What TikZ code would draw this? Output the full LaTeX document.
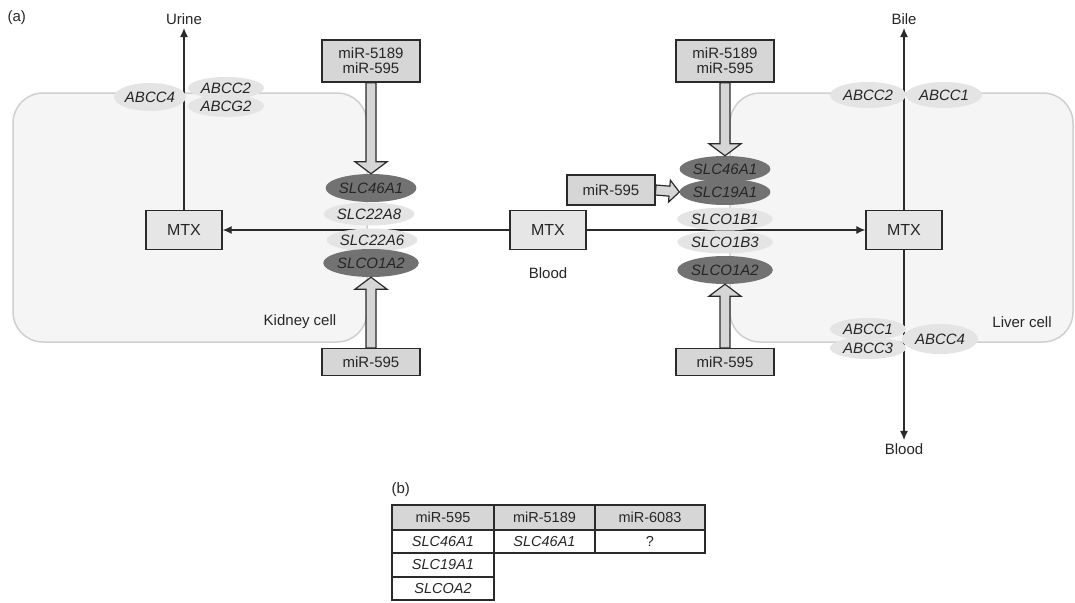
\documentclass[tikz,border=0pt]{standalone}
\usepackage{fontspec}
\setmainfont{Liberation Sans}
\usetikzlibrary{shapes.geometric,arrows.meta,calc}
\pgfdeclarelayer{bg}
\pgfdeclarelayer{lines}
\pgfsetlayers{bg,lines,main}
\definecolor{cellfill}{HTML}{F5F5F5}
\definecolor{celldraw}{HTML}{CFCFCF}
\definecolor{darkgene}{HTML}{727272}
\definecolor{lightgene}{HTML}{E4E4E4}
\definecolor{boxfill}{HTML}{D6D6D6}
\definecolor{mtxfill}{HTML}{E6E6E6}
\definecolor{edge}{HTML}{2A2A2A}
% #1 from, #2 to, #3 shaft half width, #4 head half width, #5 head length
\newcommand{\hollowarrow}[5]{%
  \fill[boxfill,draw=edge,line width=1.2pt,line join=miter]
    ($(#1)!#3!90:(#2)$) --
    ($($(#2)!#5!(#1)$)!#3!-90:(#1)$) --
    ($($(#2)!#5!(#1)$)!#4!-90:(#1)$) --
    (#2) --
    ($($(#2)!#5!(#1)$)!#4!90:(#1)$) --
    ($($(#2)!#5!(#1)$)!#3!90:(#1)$) --
    ($(#1)!#3!-90:(#2)$) -- cycle;}
\begin{document}
\begin{tikzpicture}[x=1pt,y=-1pt,
  every node/.style={font=\fontsize{15}{17}\selectfont, text=black!85},
  cell/.style={fill=cellfill,draw=celldraw,line width=1.5pt,rounded corners=30pt},
  mirbox/.style={draw=edge,fill=boxfill,line width=1.3pt,minimum width=98pt,align=center,inner sep=2pt},
  mtx/.style={draw=edge,fill=mtxfill,line width=1.3pt,minimum width=76pt,minimum height=39pt,font=\fontsize{16}{18}\selectfont},
  dgene/.style={ellipse,fill=darkgene,minimum width=82pt,minimum height=28pt,inner sep=0pt,font=\fontsize{15}{17}\selectfont\itshape,text=black!85},
  lgene/.style={ellipse,fill=lightgene,minimum width=76pt,minimum height=23pt,inner sep=0pt,font=\fontsize{15}{17}\selectfont\itshape,text=black!85},
  flow/.style={draw=edge,line width=1.2pt,-{Latex[length=9pt,width=8pt]}},
  tcell/.style={draw=edge,line width=1.2pt,inner sep=0pt,font=\fontsize{14.5}{16}\selectfont}
]
\useasboundingbox (0,0) rectangle (1075,602);
\node[anchor=west] (lbla) at (4,18) {(a)};

% cells
\begin{pgfonlayer}{bg}
\draw[cell] (13,93) rectangle (367,342);
\draw[cell] (730,93) rectangle (1073,342);
\end{pgfonlayer}

% kidney side
\node[mtx] (kmtx) at (184,230) {MTX};
\node (urine) at (184,19) {Urine};
\node[lgene,minimum width=72pt,minimum height=28pt] (kabcc4) at (150,97) {ABCC4};
\node[lgene,minimum height=22pt] (kabcc2) at (226,88) {ABCC2};
\node[lgene,minimum height=22pt] (kabcg2) at (226,106) {ABCG2};
\node[mirbox,minimum height=42pt] (kmirtop) at (371,61) {miR-5189\\[-2pt]miR-595};
\node[dgene] (kslc46) at (371,188) {SLC46A1};
\node[lgene] (kslc22a8) at (369,214) {SLC22A8};
\node[lgene] (kslc22a6) at (372,240) {SLC22A6};
\node[dgene] (kslco1a2) at (371,263) {SLCO1A2};
\node[mirbox,minimum height=27pt] (kmirbot) at (371,362) {miR-595};
\node (kidney) at (300,322) {Kidney cell};

% blood
\node[mtx] (bmtx) at (548,230) {MTX};
\node (blood) at (548,273) {Blood};

% liver side
\node[mtx] (lmtx) at (904,230) {MTX};
\node (bile) at (904,19) {Bile};
\node (blood2) at (904,449) {Blood};
\node[lgene,minimum height=26pt] (labcc2) at (868,95) {ABCC2};
\node[lgene,minimum height=26pt] (labcc1) at (944,95) {ABCC1};
\node[lgene,minimum height=22pt] (labcc1b) at (868,329) {ABCC1};
\node[lgene,minimum height=22pt] (labcc3) at (868,348) {ABCC3};
\node[lgene,minimum height=30pt] (labcc4) at (940,339) {ABCC4};
\node (liver) at (1022,322) {Liver cell};
\node[mirbox,minimum height=42pt] (lmirtop) at (725,61) {miR-5189\\[-2pt]miR-595};
\node[dgene,minimum height=26pt] (lslc46) at (725,169) {SLC46A1};
\node[dgene,minimum height=26pt] (lslc19) at (725,192) {SLC19A1};
\node[mirbox,minimum width=88pt,minimum height=30pt] (lmirleft) at (611,190) {miR-595};
\node[lgene] (lslco1b1) at (725,219) {SLCO1B1};
\node[lgene] (lslco1b3) at (725,242) {SLCO1B3};
\node[dgene] (lslco1a2) at (725,270) {SLCO1A2};
\node[mirbox,minimum height=27pt] (lmirbot) at (725,362) {miR-595};

% connectors
\begin{pgfonlayer}{lines}
\draw[flow] (kmtx.north) -- (urine.south);
\draw[flow] (bmtx.west) -- (kmtx.east);
\draw[flow] (bmtx.east) -- (lmtx.west);
\draw[flow] (lmtx.north) -- (bile.south);
\draw[flow] (lmtx.south) -- (blood2.north);
\end{pgfonlayer}

\hollowarrow{kmirtop.south}{kslc46.north}{5pt}{16pt}{12pt}
\hollowarrow{kmirbot.north}{kslco1a2.south}{5pt}{16pt}{12pt}
\hollowarrow{lmirtop.south}{lslc46.north}{5pt}{16pt}{12pt}
\hollowarrow{lmirbot.north}{lslco1a2.south}{5pt}{16pt}{12pt}
\hollowarrow{lmirleft.east}{lslc19.west}{5pt}{11pt}{10pt}

% table (b)
\node[anchor=west] (lblb) at (388,490) {(b)};
\node[tcell,fill=boxfill,minimum width=102pt,minimum height=25pt] (h1) at (443,517.5) {miR-595};
\node[tcell,fill=boxfill,minimum width=101pt,minimum height=25pt] (h2) at (544.5,517.5) {miR-5189};
\node[tcell,fill=boxfill,minimum width=110pt,minimum height=25pt] (h3) at (650,517.5) {miR-6083};
\node[tcell,minimum width=102pt,minimum height=23pt,font=\fontsize{14.5}{16}\selectfont\itshape] (r1c1) at (443,541.5) {SLC46A1};
\node[tcell,minimum width=101pt,minimum height=23pt,font=\fontsize{14.5}{16}\selectfont\itshape] (r1c2) at (544.5,541.5) {SLC46A1};
\node[tcell,minimum width=110pt,minimum height=23pt] (r1c3) at (650,541.5) {?};
\node[tcell,minimum width=102pt,minimum height=24pt,font=\fontsize{14.5}{16}\selectfont\itshape] (r2c1) at (443,565) {SLC19A1};
\node[tcell,minimum width=102pt,minimum height=23pt,font=\fontsize{14.5}{16}\selectfont\itshape] (r3c1) at (443,588.5) {SLCOA2};
\end{tikzpicture}
\end{document}
